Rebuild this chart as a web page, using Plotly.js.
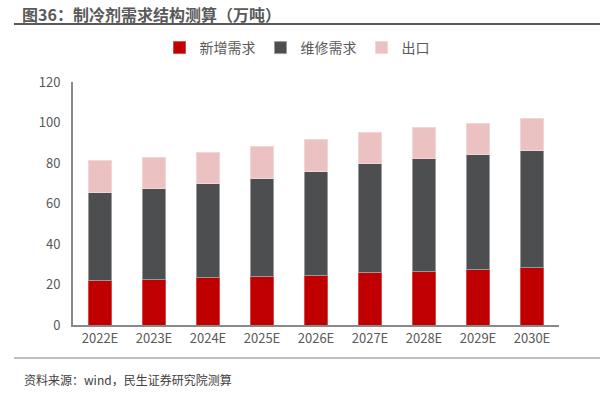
<!DOCTYPE html>
<html><head><meta charset="utf-8">
<script src="https://cdn.plot.ly/plotly-3.0.1.min.js"></script>
<style>html,body{margin:0;padding:0;background:#fff}#c{width:600px;height:398px}</style>
</head><body><div id="c"></div>
<script>
const categories = ["2022E","2023E","2024E","2025E","2026E","2027E","2028E","2029E","2030E"];
const newDemand = [21.9,22.6,23.3,24.1,24.6,25.7,26.6,27.4,28.2];
const repairDemand = [43.6,44.7,46.5,48.3,51.4,53.9,55.4,56.8,58.1];
const exportVol = [15.5,15.5,15.3,15.7,15.4,15.4,15.7,15.4,15.5];
const seriesNames = ["新增需求","维修需求","出口"];
const yTicks = [0,20,40,60,80,100,120];

const F = '"Noto Sans CJK SC", "Noto Sans", sans-serif';
const mk = (name, y, color, edge) => ({type:'bar', name, x:categories, y,
  marker:{color, line:{color:edge, width:1}}});
const data = [
  mk(seriesNames[0], newDemand, '#C00000', '#D84A4A'),
  mk(seriesNames[1], repairDemand, '#4D4E50', '#9A9A9C'),
  mk(seriesNames[2], exportVol, '#EBC1C1', '#F3D6D6')
];
const W = 486, H = 243, L = 73, B = 325;
const px = x => (x - L) / W, py = y => (B - y) / H;
const layout = {
  width:600, height:398, barmode:'stack', bargap:0.58,
  margin:{l:73, r:41, t:82, b:73},
  paper_bgcolor:'#fff', plot_bgcolor:'#fff',
  font:{family:F, color:'#595959', size:13},
  title:{text:'<b>图36：制冷剂需求结构测算（万吨）</b>', x:22/600, xanchor:'left', xref:'container',
    y:1-15/398, yanchor:'middle', yref:'container', font:{family:F, size:16, color:'#595959'}},
  showlegend:true,
  legend:{orientation:'h', x:297/600, xanchor:'center', xref:'container', y:1-48/398, yanchor:'middle', yref:'container',
    font:{family:F, size:14, color:'#595959'}, traceorder:'normal', itemwidth:30},
  xaxis:{type:'category', showline:true, linecolor:'#898989', linewidth:2, ticks:'', showgrid:false,
    tickfont:{family:F, size:13, color:'#595959'}},
  yaxis:{range:[0,120], tickvals:yTicks, showline:true, linecolor:'#898989', linewidth:2, ticks:'', showgrid:false,
    zeroline:false, tickfont:{family:F, size:13, color:'#595959'}, ticklabelstandoff:8},
  shapes:[
    {type:'line', xref:'paper', yref:'paper', x0:px(14), x1:px(600), y0:py(24), y1:py(24),
      line:{color:'#595959', width:2}},
    {type:'line', xref:'paper', yref:'paper', x0:px(14), x1:px(600), y0:py(358), y1:py(358),
      line:{color:'#7F7F7F', width:1}}
  ],
  annotations:[
    {text:'资料来源：wind，民生证券研究院测算', xref:'paper', yref:'paper', x:px(22), xanchor:'left',
      y:py(379), yanchor:'middle', showarrow:false, font:{family:F, size:12, color:'#404040'}}
  ]
};
Plotly.newPlot('c', data, layout, {displayModeBar:false, staticPlot:true});
</script></body></html>
